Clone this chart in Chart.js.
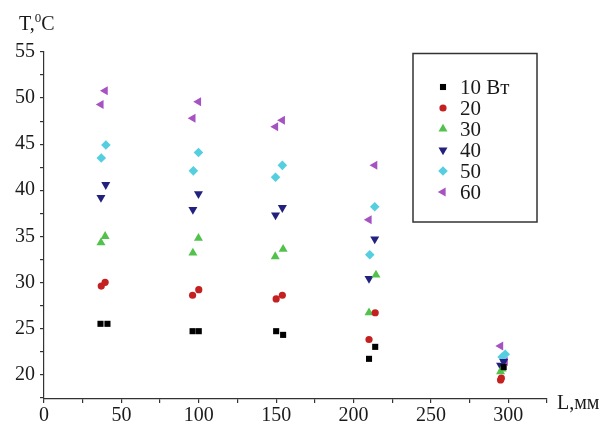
<!DOCTYPE html>
<html>
<head>
<meta charset="utf-8">
<script src="https://cdn.jsdelivr.net/npm/chart.js@4/dist/chart.umd.min.js"></script>
<style>
html,body{margin:0;padding:0;background:#fff;}
#wrap{width:609px;height:425px;}
</style>
</head>
<body>
<div id="wrap"><canvas id="c" width="609" height="425"></canvas></div>
<script>
// ---- data (L in mm, T in °C) ----
const seriesLabels = ["10 Вт", "20", "30", "40", "50", "60"];
const L10 = [36.5, 41, 96, 100, 150, 154.5, 210, 214, 297];
const T10 = [25.5, 25.5, 24.7, 24.7, 24.7, 24.3, 21.7, 23.0, 20.8];
const L20 = [37, 39.5, 96, 100, 150, 154, 210, 214, 295, 295.5];
const T20 = [29.6, 30.0, 28.6, 29.2, 28.2, 28.6, 23.8, 26.7, 19.4, 19.6];
const L30 = [36.8, 39.5, 96.2, 99.8, 149.4, 154.5, 210, 214.5, 295, 296];
const T30 = [34.3, 35.0, 33.2, 34.8, 32.8, 33.6, 26.7, 30.8, 20.3, 20.6];
const L40 = [36.8, 39.9, 96.2, 99.8, 149.6, 154, 210, 213.7, 295, 297];
const T40 = [39.2, 40.6, 37.9, 39.6, 37.3, 38.1, 30.4, 34.7, 21.0, 21.4];
const L50 = [37, 40, 96.5, 99.8, 149.6, 154, 210.5, 213.7, 296, 298];
const T50 = [43.5, 44.9, 42.1, 44.1, 41.4, 42.7, 33.0, 38.2, 21.9, 22.2];
const L60 = [36.8, 39.5, 96.2, 99.8, 149.6, 154, 210, 213.7, 298, 295];
const T60 = [49.3, 50.8, 47.8, 49.6, 46.9, 47.6, 36.8, 42.7, 21.4, 23.1];
const xTickLabels = [0, 50, 100, 150, 200, 250, 300];
const yTickLabels = [20, 25, 30, 35, 40, 45, 50, 55];

const pts = (xs, ys) => xs.map((x, i) => ({x: x, y: ys[i]}));

const styles = [
  {color: '#000000', pointStyle: 'rect', radius: 4.3, rotation: 0},
  {color: '#c42020', pointStyle: 'circle', radius: 3.6, rotation: 0},
  {color: '#52c24c', pointStyle: 'triangle', radius: 5.2, rotation: 0},
  {color: '#22227e', pointStyle: 'triangle', radius: 5.2, rotation: 180},
  {color: '#55cfe0', pointStyle: 'rectRot', radius: 4.8, rotation: 0},
  {color: '#a553c2', pointStyle: 'triangle', radius: 5.2, rotation: 270}
];
const dataPts = [pts(L10,T10), pts(L20,T20), pts(L30,T30), pts(L40,T40), pts(L50,T50), pts(L60,T60)];

const datasets = dataPts.map((d, i) => ({
  label: seriesLabels[i],
  data: d,
  pointStyle: styles[i].pointStyle,
  pointRadius: styles[i].radius,
  pointRotation: styles[i].rotation,
  backgroundColor: styles[i].color,
  borderColor: styles[i].color,
  borderWidth: 0,
  showLine: false
}));

const FONT = "'Liberation Serif', 'Times New Roman', serif";

const extras = {
  id: 'extras',
  afterDraw(chart) {
    const ctx = chart.ctx;
    ctx.save();
    ctx.fillStyle = '#1a1a1a';
    ctx.textBaseline = 'alphabetic';
    ctx.textAlign = 'left';
    // axis titles
    ctx.font = "20px " + FONT;
    ctx.fillText('T,', 19, 30);
    let w = ctx.measureText('T,').width;
    ctx.font = "13px " + FONT;
    ctx.fillText('0', 19 + w, 22);
    let w2 = ctx.measureText('0').width;
    ctx.font = "20px " + FONT;
    ctx.fillText('C', 19 + w + w2, 30);
    ctx.fillText('L,мм', 557, 409);
    // legend box
    ctx.strokeStyle = '#333';
    ctx.lineWidth = 1.5;
    ctx.strokeRect(413, 53.5, 124, 168.5);
    const h = Chart.helpers;
    for (let i = 0; i < seriesLabels.length; i++) {
      const y = 87 + i * 21;
      ctx.fillStyle = styles[i].color;
      ctx.strokeStyle = styles[i].color;
      ctx.lineWidth = 0;
      h.drawPoint(ctx, {pointStyle: styles[i].pointStyle, radius: styles[i].radius, rotation: styles[i].rotation, borderWidth: 0}, 443, y);
      ctx.fillStyle = '#1a1a1a';
      ctx.font = "21px " + FONT;
      ctx.textBaseline = 'middle';
      ctx.fillText(seriesLabels[i], 460, y + 1);
    }
    ctx.restore();
  }
};

new Chart(document.getElementById('c'), {
  type: 'scatter',
  data: {datasets: datasets},
  plugins: [extras],
  options: {
    responsive: false,
    animation: false,
    events: [],
    layout: {padding: {top: 52, right: 62, left: 0, bottom: 0}},
    plugins: {legend: {display: false}, tooltip: {enabled: false}},
    scales: {
      x: {
        type: 'linear',
        min: 0, max: 325,
        afterFit(s) { s.height = 26; },
        border: {display: true, color: '#333', width: 1.2},
        grid: {display: true, drawOnChartArea: false, drawTicks: true, tickLength: 4, color: '#333', lineWidth: 1.2},
        ticks: {
          stepSize: 25, padding: 1, color: '#1a1a1a', maxRotation: 0, autoSkip: false,
          font: {family: FONT, size: 20},
          callback: v => xTickLabels.includes(v) ? String(v) : ''
        }
      },
      y: {
        type: 'linear',
        min: 17.34, max: 55,
        afterFit(s) { s.width = 44; },
        border: {display: true, color: '#333', width: 1.2},
        grid: {display: true, drawOnChartArea: false, drawTicks: true, tickLength: 4, color: '#333', lineWidth: 1.2},
        ticks: {
          stepSize: 2.5, padding: 5, color: '#1a1a1a', includeBounds: false, autoSkip: false,
          font: {family: FONT, size: 20},
          callback: v => yTickLabels.includes(v) ? String(v) : ''
        }
      }
    }
  }
});
</script>
</body>
</html>
